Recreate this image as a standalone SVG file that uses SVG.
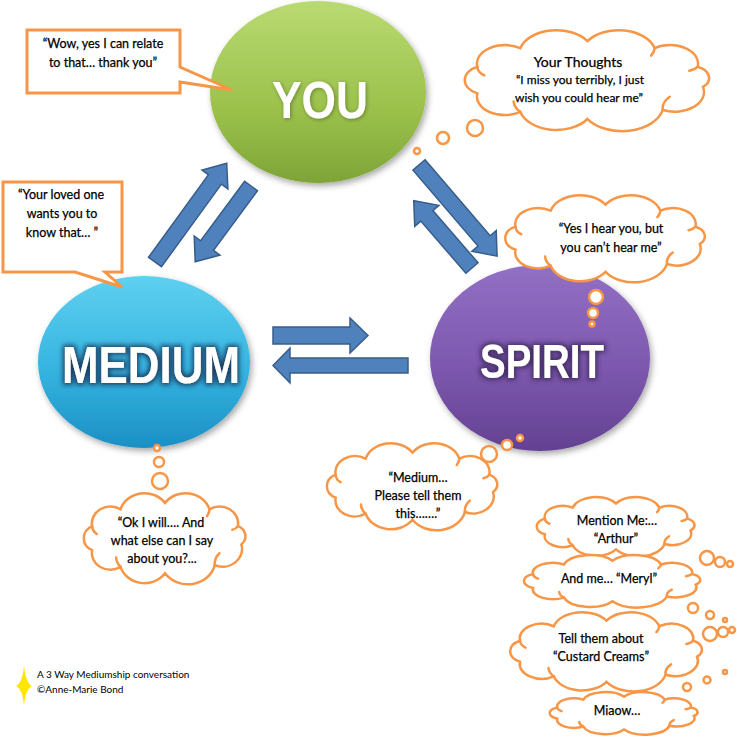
<svg xmlns="http://www.w3.org/2000/svg" xmlns:xlink="http://www.w3.org/1999/xlink" width="737" height="737" viewBox="0 0 737 737">
<style>
.co{fill:#fff;stroke:#f79646;stroke-width:2.5;vector-effect:non-scaling-stroke}
.ci{fill:none;stroke:#f79646;stroke-width:2.5;vector-effect:non-scaling-stroke;stroke-linecap:round}
.bub{fill:#fff;stroke:#f79646;stroke-width:2.5}
.call{fill:#fff;stroke:#f79646;stroke-width:3;stroke-linejoin:miter}
.arr{fill:#4f81bd;stroke:#385d8a;stroke-width:1.5;stroke-linejoin:miter}
.t{font-family:Lato,"Liberation Sans",sans-serif;font-size:12.5px;fill:#000;stroke:#000;stroke-width:0.25;text-anchor:middle}
.big{font-family:"Liberation Sans",Arial,sans-serif;font-weight:bold;font-size:52px;fill:#fff;text-anchor:middle}
.cr{font-family:Lato,"Liberation Sans",sans-serif;font-size:10px;fill:#000}
</style>
<defs>
<linearGradient id="gY" x1="0" y1="0" x2="0" y2="1"><stop offset="0" stop-color="#b9da72"/><stop offset="0.6" stop-color="#9bc14b"/><stop offset="1" stop-color="#7ea438"/></linearGradient>
<linearGradient id="gM" x1="0" y1="0" x2="0" y2="1"><stop offset="0" stop-color="#5fd0f0"/><stop offset="0.55" stop-color="#35b4e0"/><stop offset="1" stop-color="#1b8fc4"/></linearGradient>
<linearGradient id="gS" x1="0" y1="0" x2="0" y2="1"><stop offset="0" stop-color="#9270c4"/><stop offset="0.55" stop-color="#7d58ae"/><stop offset="1" stop-color="#634192"/></linearGradient>
<filter id="sh" x="-20%" y="-20%" width="140%" height="140%"><feDropShadow dx="2" dy="3" stdDeviation="3" flood-color="#000" flood-opacity="0.35"/></filter>
<filter id="glY" x="-20%" y="-40%" width="140%" height="180%"><feGaussianBlur in="SourceAlpha" stdDeviation="2"/><feOffset dx="1" dy="1"/><feComponentTransfer><feFuncA type="linear" slope="0.35"/></feComponentTransfer><feMerge><feMergeNode/><feMergeNode in="SourceGraphic"/></feMerge></filter>
<filter id="glM" x="-20%" y="-40%" width="140%" height="180%"><feMorphology in="SourceAlpha" operator="dilate" radius="2"/><feGaussianBlur stdDeviation="2.5" result="b"/><feFlood flood-color="#17375e" flood-opacity="0.9"/><feComposite in2="b" operator="in"/><feMerge><feMergeNode/><feMergeNode in="SourceGraphic"/></feMerge></filter>
<filter id="glS" x="-20%" y="-40%" width="140%" height="180%"><feMorphology in="SourceAlpha" operator="dilate" radius="2"/><feGaussianBlur stdDeviation="2.5" result="b"/><feFlood flood-color="#3f2860" flood-opacity="0.9"/><feComposite in2="b" operator="in"/><feMerge><feMergeNode/><feMergeNode in="SourceGraphic"/></feMerge></filter>
<symbol id="cloud" viewBox="5 3 90 55" preserveAspectRatio="none" overflow="visible">
<path class="co" d="M91.4,33.7 A10.5,10.5 0 0 1 77,46.1 A15,15 0 0 1 50,51 A13.5,13.5 0 0 1 25.9,47.2 A10,10 0 0 1 10.5,37.2 A8,8 0 0 1 10.5,22.8 A10,10 0 0 1 25.9,12.8 A13.5,13.5 0 0 1 50,9 A13.5,13.5 0 0 1 74.1,12.8 A10,10 0 0 1 89.5,22.8 A6.5,6.5 0 0 1 91.4,33.7 Z"/>
<path class="ci" d="M77,46.1 A9,9 0 0 1 79.5,39 M25.9,47.2 A9,9 0 0 1 23.5,41.5 M10.5,22.8 A6,6 0 0 0 13,27.5 M74.1,12.8 A8,8 0 0 1 72.8,16.8 M89.5,22.8 A5,5 0 0 1 86.5,25"/>
</symbol>
</defs>
<rect width="737" height="737" fill="#fff"/>

<g id="you"><ellipse cx="318" cy="92" rx="108" ry="91" fill="url(#gY)" filter="url(#sh)"/><text class="big" x="320" y="118" textLength="96" lengthAdjust="spacingAndGlyphs" filter="url(#glY)">YOU</text></g>
<g id="medium"><ellipse cx="144" cy="362" rx="106" ry="86" fill="url(#gM)" filter="url(#sh)"/><text class="big" x="151" y="383" textLength="178" lengthAdjust="spacingAndGlyphs" filter="url(#glM)">MEDIUM</text></g>
<g id="spirit"><ellipse cx="540" cy="358" rx="110" ry="93" fill="url(#gS)" filter="url(#sh)"/><text class="big" x="542" y="378" style="font-size:49px" textLength="124" lengthAdjust="spacingAndGlyphs" filter="url(#glS)">SPIRIT</text></g>

<g id="connectors">
<path class="arr" d="M0,-8 H102 V-16 L122,0 L102,16 V8 H0 Z" transform="translate(155,262) rotate(-54)"/>
<path class="arr" d="M0,-8 H74 V-16 L94,0 L74,16 V8 H0 Z" transform="translate(251,186) rotate(126.4)"/>
<path class="arr" d="M0,-8 H100 V-16 L120,0 L100,16 V8 H0 Z" transform="translate(419,165) rotate(49.4)"/>
<path class="arr" d="M0,-8 H69 V-16 L89,0 L69,16 V8 H0 Z" transform="translate(472,268) rotate(-130.9)"/>
<path class="arr" d="M0,-8.5 H77 V-17.5 L95,0 L77,17.5 V8.5 H0 Z" transform="translate(273,335.5)"/>
<path class="arr" d="M0,-7.5 H118 V-17.5 L135,0 L118,17.5 V7.5 H0 Z" transform="translate(408,365.5) rotate(180)"/>
</g>

<g id="callout-wow"><path class="call" d="M27,30 H180 V67 L232,90 L180,82 V93 H27 Z"/><text class="t" x="103" y="48">“Wow, yes I can relate</text><text class="t" x="103" y="67">to that… thank you”</text></g>
<g id="callout-loved"><path class="call" d="M3,182 H122 V272 H105 L122,287 L75,272 H3 Z"/><text class="t" x="61" y="199">“Your loved one</text><text class="t" x="62" y="218">wants you to</text><text class="t" x="62" y="237">know that… ”</text></g>

<g id="thought-you"><circle class="bub" cx="417" cy="151" r="3"/><circle class="bub" cx="443" cy="138" r="6"/><circle class="bub" cx="475" cy="128" r="8"/><use href="#cloud" x="462" y="30" width="251" height="102"/><text class="t" x="578" y="67" style="font-size:14px">Your Thoughts</text><text class="t" x="580" y="84" style="font-size:12px">“I miss you terribly, I just</text><text class="t" x="579" y="102" style="font-size:12px">wish you could hear me”</text></g>

<g id="thought-spirit"><use href="#cloud" x="503" y="195" width="205" height="88"/><circle class="bub" cx="596" cy="297" r="7"/><circle class="bub" cx="593" cy="313" r="5"/><circle class="bub" cx="592" cy="324" r="2.5"/><text class="t" x="611" y="233">“Yes I hear you, but</text><text class="t" x="611" y="252">you can’t hear me”</text></g>

<g id="thought-spirit-medium"><circle class="bub" cx="520" cy="438" r="3"/><circle class="bub" cx="507" cy="445" r="5"/><use href="#cloud" x="325" y="443" width="175" height="88"/><circle class="bub" cx="489" cy="454" r="8"/><text class="t" x="418" y="482">“Medium…</text><text class="t" x="418" y="500">Please tell them</text><text class="t" x="418" y="518">this…….”</text></g>

<g id="thought-medium"><circle class="bub" cx="157" cy="448" r="3"/><circle class="bub" cx="159" cy="462" r="5"/><use href="#cloud" x="82" y="493" width="166" height="92"/><circle class="bub" cx="160" cy="481" r="8"/><text class="t" x="161" y="527">“Ok I will…. And</text><text class="t" x="162" y="545">what else can I say</text><text class="t" x="162" y="563">about you?...</text></g>

<g id="thought-arthur"><use href="#cloud" x="535" y="497" width="162" height="60"/><circle class="bub" cx="707" cy="558" r="7"/><circle class="bub" cx="720" cy="562" r="5"/><circle class="bub" cx="730" cy="564" r="3"/><text class="t" x="617" y="525">Mention Me:…</text><text class="t" x="616" y="543">“Arthur”</text></g>
<g id="thought-meryl"><use href="#cloud" x="522" y="555" width="181" height="53"/><circle class="bub" cx="693" cy="608" r="5"/><circle class="bub" cx="710" cy="615" r="4"/><circle class="bub" cx="725" cy="620" r="2"/><text class="t" x="609" y="583">And me… “Meryl”</text></g>
<g id="thought-custard"><use href="#cloud" x="508" y="612" width="197" height="80"/><circle class="bub" cx="710" cy="634" r="7"/><circle class="bub" cx="723" cy="632" r="5"/><circle class="bub" cx="732" cy="630" r="3"/><circle class="bub" cx="725" cy="672" r="2"/><circle class="bub" cx="707" cy="680" r="3.5"/><circle class="bub" cx="687" cy="687" r="4"/><text class="t" x="601" y="643">Tell them about</text><text class="t" x="601" y="661">“Custard Creams”</text></g>
<g id="thought-miaow"><use href="#cloud" x="548" y="692" width="152" height="43"/><text class="t" x="617" y="715">Miaow…</text></g>

<g id="credit"><path d="M24,665 Q25.5,683 32,686 Q25.5,689 24,706 Q22.5,689 16,686 Q22.5,683 24,665 Z" fill="#ffe600"/><text class="cr" x="37" y="678">A 3 Way Mediumship conversation</text><text class="cr" x="37" y="693">©Anne-Marie Bond</text></g>
</svg>
